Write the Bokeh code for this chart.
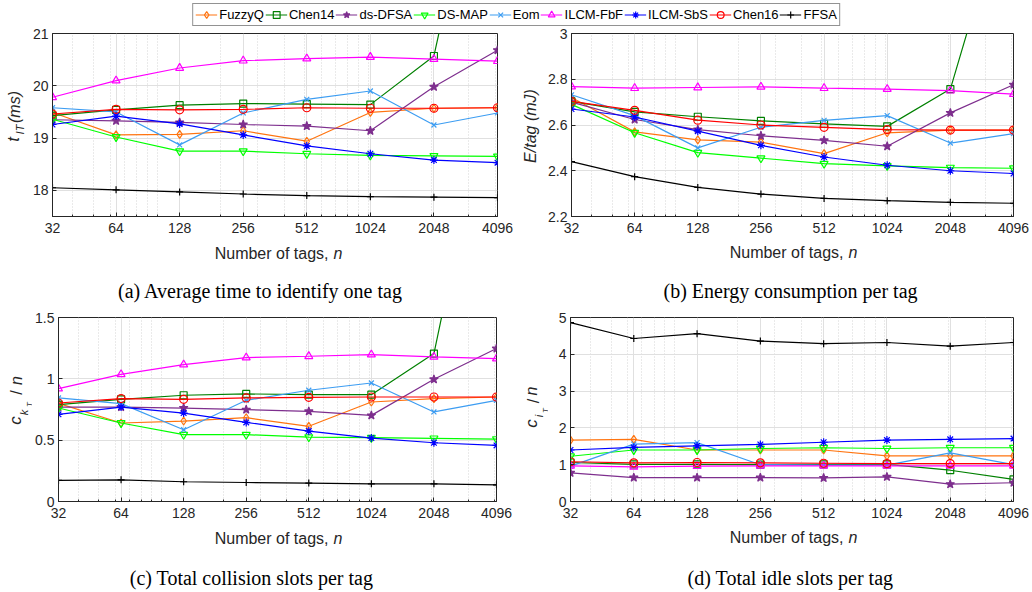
import math
from bokeh.plotting import figure
from bokeh.models import (Range1d, FixedTicker, Label, Legend, LegendItem,
                          PrintfTickFormatter)
from bokeh.layouts import column, row
from bokeh.embed import file_html
from bokeh.resources import INLINE

# ---------------- data ----------------
n_tags = [32, 64, 128, 256, 512, 1024, 2048, 4096]
x_tick_labels = ["32", "64", "128", "256", "512", "1024", "2048", "4096"]
x_minor = [40, 50, 60, 70, 80, 90, 100, 200, 300, 400, 500, 600, 700, 800,
           900, 1000, 2000, 3000, 4000]

series_names = ["FuzzyQ", "Chen14", "ds-DFSA", "DS-MAP", "Eom",
                "ILCM-FbF", "ILCM-SbS", "Chen16", "FFSA"]

# (a) average time to identify one tag, ms
fuzzyq_t = [19.49, 19.06, 19.07, 19.14, 18.94, 19.49, 19.57, 19.58]
chen14_t = [19.43, 19.54, 19.63, 19.66, 19.65, 19.64, 20.57, 26.1]
dsdfsa_t = [19.35, 19.33, 19.30, 19.26, 19.23, 19.14, 19.98, 20.68]
dsmap_t = [19.36, 19.02, 18.75, 18.75, 18.70, 18.67, 18.66, 18.65]
eom_t = [19.58, 19.50, 18.87, 19.48, 19.74, 19.90, 19.25, 19.48]
fbf_t = [19.78, 20.10, 20.34, 20.48, 20.52, 20.55, 20.51, 20.47]
sbs_t = [19.26, 19.42, 19.27, 19.06, 18.85, 18.70, 18.58, 18.53]
chen16_t = [19.46, 19.55, 19.54, 19.55, 19.58, 19.57, 19.57, 19.58]
ffsa_t = [18.05, 18.01, 17.97, 17.93, 17.90, 17.88, 17.87, 17.86]

# (b) energy per tag, mJ
fuzzyq_e = [2.72, 2.57, 2.535, 2.525, 2.475, 2.566, 2.578, 2.578]
chen14_e = [2.703, 2.657, 2.636, 2.618, 2.605, 2.594, 2.757, 3.69]
dsdfsa_e = [2.70, 2.624, 2.58, 2.553, 2.533, 2.507, 2.653, 2.776]
dsmap_e = [2.69, 2.566, 2.479, 2.455, 2.431, 2.421, 2.414, 2.411]
eom_e = [2.732, 2.641, 2.50, 2.59, 2.62, 2.641, 2.521, 2.562]
fbf_e = [2.768, 2.761, 2.764, 2.767, 2.761, 2.757, 2.75, 2.735]
sbs_e = [2.67, 2.635, 2.573, 2.511, 2.46, 2.424, 2.40, 2.388]
chen16_e = [2.703, 2.664, 2.621, 2.60, 2.59, 2.58, 2.578, 2.578]
ffsa_e = [2.44, 2.374, 2.327, 2.298, 2.279, 2.269, 2.262, 2.258]

# (c) total collision slots per tag
fuzzyq_c = [0.80, 0.64, 0.656, 0.683, 0.613, 0.811, 0.839, 0.852]
chen14_c = [0.79, 0.833, 0.866, 0.877, 0.871, 0.871, 1.206, 3.63]
dsdfsa_c = [0.77, 0.77, 0.762, 0.749, 0.735, 0.702, 0.996, 1.247]
dsmap_c = [0.762, 0.64, 0.545, 0.545, 0.525, 0.52, 0.515, 0.509]
eom_c = [0.844, 0.798, 0.585, 0.825, 0.907, 0.966, 0.73, 0.825]
fbf_c = [0.92, 1.037, 1.116, 1.173, 1.184, 1.198, 1.179, 1.165]
sbs_c = [0.711, 0.77, 0.721, 0.645, 0.574, 0.517, 0.479, 0.457]
chen16_c = [0.803, 0.839, 0.833, 0.844, 0.849, 0.852, 0.852, 0.852]
ffsa_c = [0.172, 0.177, 0.161, 0.155, 0.15, 0.144, 0.144, 0.136]

# (d) total idle slots per tag
fuzzyq_i = [1.67, 1.69, 1.40, 1.40, 1.40, 1.24, 1.24, 1.24]
chen14_i = [1.06, 1.01, 1.01, 1.00, 1.01, 1.01, 0.85, 0.60]
dsdfsa_i = [0.78, 0.65, 0.65, 0.65, 0.64, 0.67, 0.47, 0.51]
dsmap_i = [1.23, 1.40, 1.40, 1.44, 1.46, 1.44, 1.46, 1.46]
eom_i = [0.96, 1.56, 1.60, 1.00, 0.99, 0.99, 1.32, 1.00]
fbf_i = [0.97, 0.94, 0.96, 0.97, 0.97, 0.97, 0.97, 0.97]
sbs_i = [1.40, 1.47, 1.51, 1.55, 1.61, 1.67, 1.69, 1.71]
chen16_i = [1.08, 1.05, 1.06, 1.05, 1.04, 1.03, 1.03, 1.03]
ffsa_i = [4.86, 4.43, 4.56, 4.36, 4.29, 4.32, 4.22, 4.32]

# ---------------- styles ----------------
STYLE = {
    "FuzzyQ":   dict(color="#FF7410", marker="diamond", fill=False, size=8),
    "Chen14":   dict(color="#008000", marker="square", fill=False, size=7),
    "ds-DFSA":  dict(color="#7E2F8E", marker="star", fill=True, size=9),
    "DS-MAP":   dict(color="#00FF00", marker="inverted_triangle", fill=False, size=8),
    "Eom":      dict(color="#3D9DF2", marker="x", fill=False, size=7),
    "ILCM-FbF": dict(color="#FF00FF", marker="triangle", fill=False, size=8),
    "ILCM-SbS": dict(color="#0000FF", marker="asterisk", fill=False, size=8),
    "Chen16":   dict(color="#FF0000", marker="circle", fill=False, size=8),
    "FFSA":     dict(color="#000000", marker="cross", fill=False, size=7),
}
AX = "#262626"
SANS = "Liberation Sans"
SERIF = "Liberation Serif"
ROT = math.pi / 2


def blank(width, height):
    f = figure(width=width, height=height, x_range=Range1d(0, 1),
               y_range=Range1d(0, 1), output_backend="svg",
               toolbar_location=None, min_border=0,
               x_axis_location=None, y_axis_location=None)
    f.grid.visible = False
    f.outline_line_color = None
    return f


def txt(f, text, x, y, size, italic=False, angle=0.0, align="center",
        font=SANS, color=AX):
    f.add_layout(Label(x=x, y=y, x_units="screen", y_units="screen",
                       text=text, angle=angle, text_align=align,
                       text_baseline="middle", text_font=font,
                       text_font_size=f"{size}px",
                       text_font_style="italic" if italic else "normal",
                       text_color=color))


def panel(series, y0, y1, yticks, width, height, left, right, top, bottom):
    p = figure(width=width, height=height, x_axis_type="log",
               x_range=Range1d(32, 4096), y_range=Range1d(y0, y1),
               output_backend="svg", toolbar_location=None,
               min_border_left=left, min_border_right=right,
               min_border_top=top, min_border_bottom=bottom)
    xt = FixedTicker(ticks=n_tags, minor_ticks=x_minor)
    yt = FixedTicker(ticks=yticks)
    p.xaxis.ticker = xt
    p.xgrid.ticker = xt
    p.yaxis.ticker = yt
    p.ygrid.ticker = yt
    p.xaxis.major_label_overrides = {v: s for v, s in zip(n_tags, x_tick_labels)}
    p.yaxis.formatter = PrintfTickFormatter(format="%g")
    for ax in (p.xaxis, p.yaxis):
        ax.axis_line_color = AX
        ax.major_tick_line_color = AX
        ax.minor_tick_line_color = AX
        ax.major_tick_in = 4
        ax.major_tick_out = 0
        ax.minor_tick_in = 2
        ax.minor_tick_out = 0
        ax.major_label_text_font = SANS
        ax.major_label_text_font_size = "14px"
        ax.major_label_text_color = AX
    p.yaxis.minor_tick_line_color = None
    p.xaxis.major_label_standoff = 6
    p.yaxis.major_label_standoff = 4
    p.outline_line_color = AX
    p.outline_line_width = 1
    p.grid.grid_line_color = "#e0e0e0"
    p.xgrid.minor_grid_line_color = "#d4d4d4"
    p.xgrid.minor_grid_line_dash = "1 2"
    for name, ys in zip(series_names, series):
        st = STYLE[name]
        p.line(n_tags, ys, line_color=st["color"], line_width=1.2)
        p.scatter(n_tags, ys, marker=st["marker"], size=st["size"],
                  line_color=st["color"], line_width=1.2,
                  fill_color=st["color"] if st["fill"] else None)
    return p


def strip(width, height, n_x, lab_y, caption, cap_x, cap_y):
    f = blank(width, height)
    txt(f, "Number of tags,", n_x - 5, lab_y, 16, align="right")
    txt(f, "n", n_x, lab_y, 16, italic=True, align="left")
    txt(f, caption, cap_x, cap_y, 20, font=SERIF, color="#000000")
    return f


# legend strip
lf = blank(1032, 26)
items = []
for name in series_names:
    st = STYLE[name]
    r1 = lf.line([-5, -4], [-5, -4], line_color=st["color"], line_width=1.2)
    r2 = lf.scatter([-5], [-5], marker=st["marker"], size=st["size"],
                    line_color=st["color"], line_width=1.2,
                    fill_color=st["color"] if st["fill"] else None)
    items.append(LegendItem(label=name, renderers=[r1, r2]))
leg = Legend(items=items, orientation="horizontal", location="top_center",
             margin=3, padding=2, spacing=1, glyph_width=22, glyph_height=17,
             label_height=17, label_standoff=2, label_text_font=SANS,
             label_text_font_size="13px", label_text_color="#000000",
             border_line_color=AX, border_line_width=1,
             background_fill_color="white", background_fill_alpha=1)
lf.add_layout(leg, "center")

# (a)
pa = panel([fuzzyq_t, chen14_t, dsdfsa_t, dsmap_t, eom_t, fbf_t, sbs_t, chen16_t, ffsa_t],
           17.5, 21, [18, 19, 20, 21], 490, 216, 26, 19, 7, 25)
ya = blank(26, 216)
txt(ya, "t", 12.5, 77, 17, italic=True, angle=ROT)
txt(ya, "IT", 19.5, 87, 11, italic=True, angle=ROT)
txt(ya, "(ms)", 14, 109.5, 16, italic=True, angle=ROT)
sa = strip(516, 68, 333, 57, "(a) Average time to identify one tag", 260, 20)

# (b)
pb = panel([fuzzyq_e, chen14_e, dsdfsa_e, dsmap_e, eom_e, fbf_e, sbs_e, chen16_e, ffsa_e],
           2.2, 3.0, [2.2, 2.4, 2.6, 2.8, 3.0], 490, 216, 29, 19, 6, 26)
yb = blank(26, 216)
txt(yb, "E/tag (mJ)", 14, 90.5, 16, italic=True, angle=ROT)
sb = strip(516, 68, 332, 58, "(b) Energy consumption per tag", 274, 20)

# (c)
pc = panel([fuzzyq_c, chen14_c, dsdfsa_c, dsmap_c, eom_c, fbf_c, sbs_c, chen16_c, ffsa_c],
           0, 1.5, [0, 0.5, 1, 1.5], 484, 216, 25, 20, 7, 25)
yc = blank(32, 216)
txt(yc, "c", 15, 81, 17, italic=True, angle=ROT)
txt(yc, "k", 23.5, 89, 11, italic=True, angle=ROT)
txt(yc, "T", 28.5, 97, 8, italic=True, angle=ROT)
txt(yc, "/", 16, 109, 16, angle=ROT)
txt(yc, "n", 16, 121, 16, italic=True, angle=ROT)
sc = strip(516, 66, 333, 54, "(c) Total collision slots per tag", 251, 15)

# (d)
pd_ = panel([fuzzyq_i, chen14_i, dsdfsa_i, dsmap_i, eom_i, fbf_i, sbs_i, chen16_i, ffsa_i],
            0, 5, [0, 1, 2, 3, 4, 5], 484, 216, 22, 19, 6, 25)
yd = blank(32, 216)
txt(yd, "c", 15, 78, 17, italic=True, angle=ROT)
txt(yd, "i", 22.5, 85.5, 11, italic=True, angle=ROT)
txt(yd, "T", 28.5, 91, 8, italic=True, angle=ROT)
txt(yd, "/", 17, 100.5, 16, angle=ROT)
txt(yd, "n", 15, 110.5, 16, italic=True, angle=ROT)
sd = strip(516, 66, 332, 55, "(d) Total idle slots per tag", 274, 15)

layout = column(
    lf,
    row(ya, pa, yb, pb),
    row(sa, sb),
    row(yc, pc, yd, pd_),
    row(sc, sd),
)
open("out.html", "w").write(file_html(layout, INLINE))
